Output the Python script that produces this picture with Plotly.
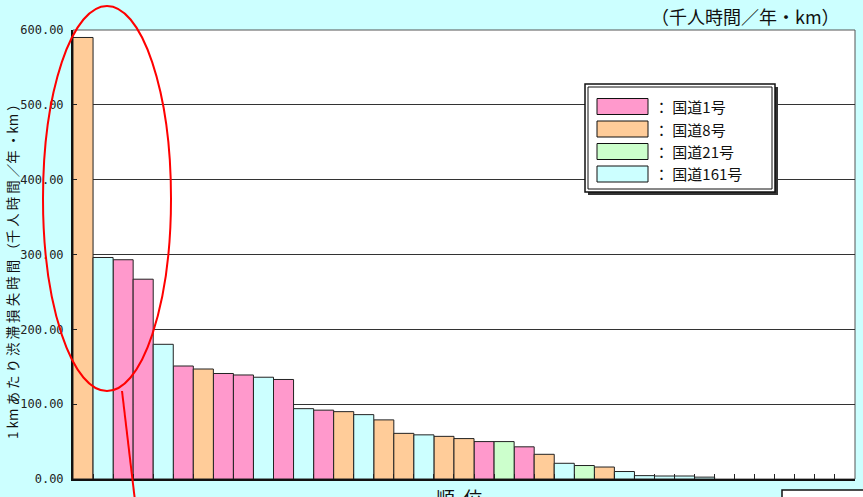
import plotly.graph_objects as go

# Congestion loss per km, ranked (thousand person-hours / year / km)
ranks = list(range(1, 40))
loss_values = [590, 296, 293, 267, 180, 151, 147, 141, 139, 136,
               133, 94, 92, 90, 86, 79, 61, 59, 57, 54,
               50, 50, 43, 33, 21, 18, 16, 10, 4.5, 4,
               4, 2.5]
routes = ["8", "161", "1", "1", "161", "1", "8", "1", "1", "161",
          "1", "161", "1", "8", "161", "8", "8", "161", "8", "8",
          "1", "21", "1", "8", "161", "21", "8", "161", "161", "161",
          "161", "161"]

route_names = ["1", "8", "21", "161"]
route_labels = ["： 国道1号", "： 国道8号", "： 国道21号", "： 国道161号"]
route_colors = ["#FF99CC", "#FFCC99", "#CCFFCC", "#CCFFFF"]

y_ticks = [0, 100, 200, 300, 400, 500, 600]
y_title = "1 km あ た り 渋 滞 損 失 時 間 （千 人 時 間 ／年 ・km ）"
x_title = "順  位"
unit_label = "（千人時間／年・km）"

W, H = 863, 497
L, R, T, B = 73, 8, 30, 18
PW, PH = W - L - R, H - T - B


def px_x(x):
    return (x - L) / PW


def px_y(y):
    return (H - B - y) / PH


fig = go.Figure()

for name, color in zip(route_names, route_colors):
    xs = [r for r, rt in zip(ranks, routes) if rt == name]
    ys = [v for v, rt in zip(loss_values, routes) if rt == name]
    fig.add_trace(go.Bar(
        x=xs, y=ys, width=1, name=name,
        marker=dict(color=color, line=dict(color="#222222", width=1)),
        showlegend=False,
    ))

font_cjk = "Noto Sans CJK JP"

fig.update_layout(
    width=W, height=H,
    margin=dict(l=L, r=R, t=T, b=B),
    paper_bgcolor="#CCFFFF",
    plot_bgcolor="#FFFFFF",
    barmode="overlay",
    xaxis=dict(
        range=[0.5, 39.5],
        tickvals=[i + 0.5 for i in range(0, 40)],
        showticklabels=False,
        ticks="inside", ticklen=5, tickcolor="#222222",
        showgrid=False, zeroline=False,
        showline=True, linecolor="#111111", linewidth=2,
    ),
    yaxis=dict(
        range=[0, 600],
        tickvals=y_ticks,
        tickformat=".2f",
        ticks="inside", ticklen=4, tickcolor="#222222",
        tickfont=dict(family="DejaVu Sans Mono", size=12, color="#222222"),
        ticklabelstandoff=5,
        showgrid=True, gridcolor="#333333", gridwidth=1,
        zeroline=False,
        showline=True, linecolor="#111111", linewidth=2,
    ),
)

shapes = []
# plot frame (top and right edges)
shapes.append(dict(type="rect", xref="paper", yref="paper", x0=0, x1=1, y0=0, y1=1,
                   line=dict(color="#555555", width=1), layer="below"))

# legend box with shadow
lx0, lx1, ly0, ly1 = 585, 775, 84, 192
shapes.append(dict(type="rect", xref="paper", yref="paper",
                   x0=px_x(lx0 + 3), x1=px_x(lx1 + 3), y0=px_y(ly1 + 3), y1=px_y(ly0 + 3),
                   fillcolor="#333333", line=dict(width=0)))
shapes.append(dict(type="rect", xref="paper", yref="paper",
                   x0=px_x(lx0), x1=px_x(lx1), y0=px_y(ly1), y1=px_y(ly0),
                   fillcolor="#FFFFFF", line=dict(color="#111111", width=1.5)))
shapes.append(dict(type="rect", xref="paper", yref="paper",
                   x0=px_x(lx0 + 3), x1=px_x(lx1 - 3), y0=px_y(ly1 - 3), y1=px_y(ly0 + 3),
                   line=dict(color="#111111", width=1)))

annotations = []
row_centers = [106.5, 129, 151.5, 174]
for label, color, cy in zip(route_labels, route_colors, row_centers):
    shapes.append(dict(type="rect", xref="paper", yref="paper",
                       x0=px_x(597), x1=px_x(648), y0=px_y(cy + 8), y1=px_y(cy - 8),
                       fillcolor=color, line=dict(color="#111111", width=1)))
    annotations.append(dict(xref="paper", yref="paper", x=px_x(652), y=px_y(cy),
                            xanchor="left", yanchor="middle", showarrow=False,
                            text=label, font=dict(family=font_cjk, size=15, color="#111111")))

# highlight ellipse around the top-ranked sections and its leader line
shapes.append(dict(type="circle", xref="paper", yref="paper",
                   x0=px_x(43), x1=px_x(171), y0=px_y(391), y1=px_y(6),
                   line=dict(color="#FF0000", width=2)))
shapes.append(dict(type="line", xref="paper", yref="paper",
                   x0=px_x(122), y0=px_y(391), x1=px_x(135.5), y1=px_y(505),
                   line=dict(color="#FF0000", width=2)))

# note box at the lower right
shapes.append(dict(type="rect", xref="paper", yref="paper",
                   x0=px_x(782), x1=px_x(880), y0=px_y(520), y1=px_y(490),
                   fillcolor="#FFFFFF", line=dict(color="#111111", width=1.5)))

annotations.append(dict(xref="paper", yref="paper", x=px_x(12), y=px_y(268),
                        xanchor="center", yanchor="middle", showarrow=False, textangle=-90,
                        text=y_title, font=dict(family=font_cjk, size=13.5, color="#111111")))
annotations.append(dict(xref="paper", yref="paper", x=px_x(842), y=px_y(16),
                        xanchor="right", yanchor="middle", showarrow=False,
                        text=unit_label, font=dict(family=font_cjk, size=18, color="#111111")))
annotations.append(dict(xref="paper", yref="paper", x=px_x(459), y=px_y(482),
                        xanchor="center", yanchor="top", showarrow=False,
                        text=x_title, font=dict(family=font_cjk, size=19, color="#111111")))

fig.update_layout(shapes=shapes, annotations=annotations)

fig.write_html("out.html")
